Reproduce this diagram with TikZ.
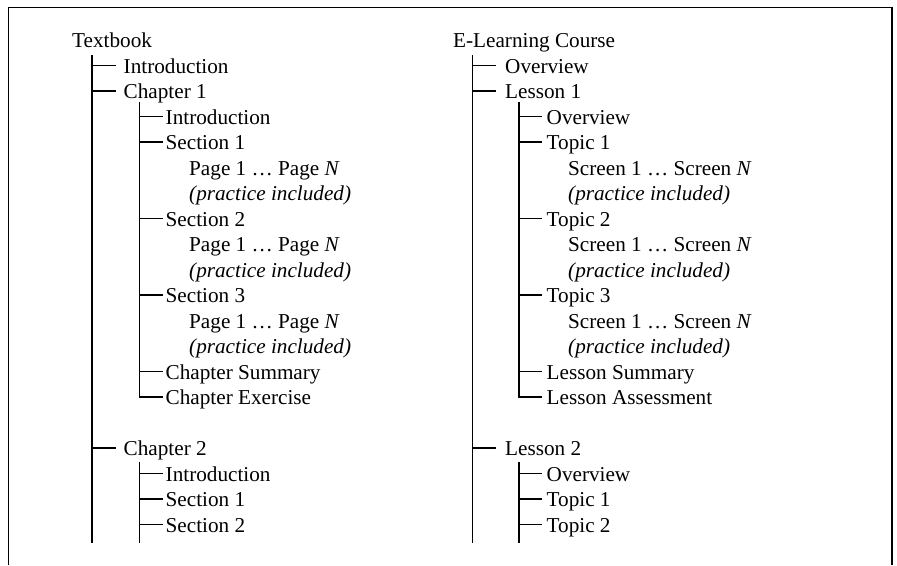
\documentclass[tikz,border=0pt]{standalone}
\usepackage{fontspec}
\setmainfont{Liberation Serif}
\begin{document}
\begin{tikzpicture}[x=1pt,y=-1pt,
  lbl/.style={anchor=base west,inner sep=0pt,text height=15.5pt,text depth=0pt,
              font=\fontsize{21.2}{24}\selectfont},
  tree/.style={line width=1.5pt,black},
  frame/.style={line width=1.4pt,black}]
\useasboundingbox (0,0) rectangle (897,565);
\draw[frame] (8.5,565) -- (8.5,7.5) -- (892,7.5) -- (892,565);

% ---------------- Left tree ----------------
\node[lbl] (tb) at (72,47.5) {Textbook};
\node[lbl] (tIntro) at (123.5,73) {Introduction};
\node[lbl] (tCh1) at (123.5,98.5) {Chapter 1};
\node[lbl] (tC1i) at (165.5,124) {Introduction};
\node[lbl] (tC1s1) at (165.5,149.5) {Section 1};
\node[lbl] (tP1) at (189,175) {Page 1 … Page \textit{N}};
\node[lbl] (tQ1) at (189,200.5) {\textit{(practice included)}};
\node[lbl] (tC1s2) at (165.5,226) {Section 2};
\node[lbl] (tP2) at (189,251.5) {Page 1 … Page \textit{N}};
\node[lbl] (tQ2) at (189,277) {\textit{(practice included)}};
\node[lbl] (tC1s3) at (165.5,302.5) {Section 3};
\node[lbl] (tP3) at (189,328) {Page 1 … Page \textit{N}};
\node[lbl] (tQ3) at (189,353.5) {\textit{(practice included)}};
\node[lbl] (tSum) at (165.5,379) {Chapter Summary};
\node[lbl] (tEx) at (165.5,404.5) {Chapter Exercise};
\node[lbl] (tCh2) at (123.5,455.5) {Chapter 2};
\node[lbl] (tC2i) at (165.5,481) {Introduction};
\node[lbl] (tC2s1) at (165.5,506.5) {Section 1};
\node[lbl] (tC2s2) at (165.5,532) {Section 2};

\coordinate (tv1) at (92,55);
\coordinate (tv1b) at (92,543);
\coordinate (tv2) at (139.5,102);
\coordinate (tv3) at (139.5,462);
\coordinate (tv3b) at (139.5,543);

\draw[tree] (tv1) -- (tv1b);
\foreach \n in {tIntro,tCh1,tCh2} \draw[tree] (tv1 |- \n.west) -- ++(23.5,0);
\draw[tree] (tv2) -- (tv2 |- tEx.west) -- ++(23,0);
\foreach \n in {tC1i,tC1s1,tC1s2,tC1s3,tSum} \draw[tree] (tv2 |- \n.west) -- ++(23,0);
\draw[tree] (tv3) -- (tv3b);
\foreach \n in {tC2i,tC2s1,tC2s2} \draw[tree] (tv3 |- \n.west) -- ++(23,0);

% ---------------- Right tree ----------------
\node[lbl] (eb) at (453,47.5) {E-Learning Course};
\node[lbl] (eOv) at (505,73) {Overview};
\node[lbl] (eL1) at (505,98.5) {Lesson 1};
\node[lbl] (eL1o) at (546.5,124) {Overview};
\node[lbl] (eT1) at (546.5,149.5) {Topic 1};
\node[lbl] (eS1) at (568,175) {Screen 1 … Screen \textit{N}};
\node[lbl] (eQ1) at (568,200.5) {\textit{(practice included)}};
\node[lbl] (eT2) at (546.5,226) {Topic 2};
\node[lbl] (eS2) at (568,251.5) {Screen 1 … Screen \textit{N}};
\node[lbl] (eQ2) at (568,277) {\textit{(practice included)}};
\node[lbl] (eT3) at (546.5,302.5) {Topic 3};
\node[lbl] (eS3) at (568,328) {Screen 1 … Screen \textit{N}};
\node[lbl] (eQ3) at (568,353.5) {\textit{(practice included)}};
\node[lbl] (eSum) at (546.5,379) {Lesson Summary};
\node[lbl] (eAs) at (546.5,404.5) {Lesson Assessment};
\node[lbl] (eL2) at (505,455.5) {Lesson 2};
\node[lbl] (eL2o) at (546.5,481) {Overview};
\node[lbl] (eL2t1) at (546.5,506.5) {Topic 1};
\node[lbl] (eL2t2) at (546.5,532) {Topic 2};

\coordinate (ev1) at (472.5,55);
\coordinate (ev1b) at (472.5,543);
\coordinate (ev2) at (519,102);
\coordinate (ev3) at (519,462);
\coordinate (ev3b) at (519,543);

\draw[tree] (ev1) -- (ev1b);
\foreach \n in {eOv,eL1,eL2} \draw[tree] (ev1 |- \n.west) -- ++(23,0);
\draw[tree] (ev2) -- (ev2 |- eAs.west) -- ++(23,0);
\foreach \n in {eL1o,eT1,eT2,eT3,eSum} \draw[tree] (ev2 |- \n.west) -- ++(23,0);
\draw[tree] (ev3) -- (ev3b);
\foreach \n in {eL2o,eL2t1,eL2t2} \draw[tree] (ev3 |- \n.west) -- ++(23,0);
\end{tikzpicture}
\end{document}
